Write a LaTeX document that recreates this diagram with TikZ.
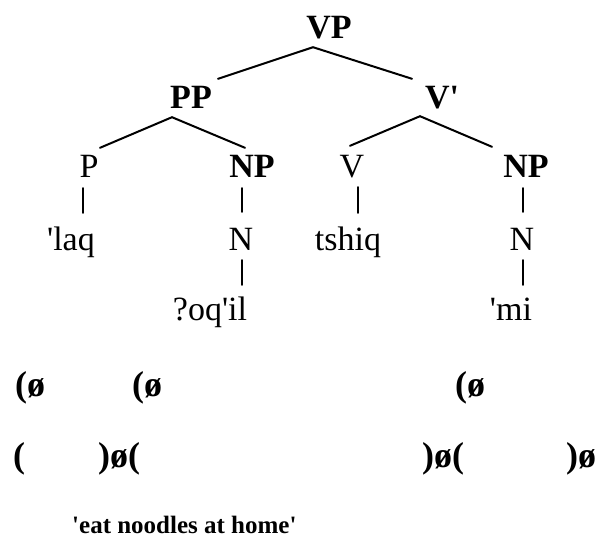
\documentclass[tikz,border=0pt]{standalone}
\usepackage{fontspec}
\setmainfont{Liberation Serif}[Ligatures=TeXOff]
\begin{document}
\begin{tikzpicture}[x=1pt,y=-1pt,
  lab/.style={inner sep=0pt, anchor=base, text height=23pt, text depth=0pt, font=\fontsize{34}{40}\selectfont},
  blab/.style={lab, font=\fontsize{34}{40}\selectfont\bfseries},
  brk/.style={inner sep=0pt, anchor=base west, font=\fontsize{36}{40}\selectfont\bfseries},
  edge/.style={line width=2pt, line cap=round}]
\useasboundingbox (0,0) rectangle (599,544);
% tree labels
\node[blab] (VP)  at (329,38)  {VP};
\node[blab] (PP)  at (191,108) {PP};
\node[blab] (Vb)  at (442,108) {V'};
\node[lab]  (P)   at (89,177)  {P};
\node[blab] (NP1) at (252,177) {NP};
\node[lab]  (V)   at (352,177) {V};
\node[blab] (NP2) at (526,177) {NP};
\node[lab]  (laq) at (71,250)  {'laq};
\node[lab]  (N1)  at (241,250) {N};
\node[lab]  (tsh) at (348,250) {tshiq};
\node[lab]  (N2)  at (522,250) {N};
\node[lab]  (oq)  at (210,320) {?oq'il};
\node[lab]  (mi)  at (511,320) {'mi};
% branches
\draw[edge] ([shift={(-16,9)}]VP.south) -- ([shift={(27,-6)}]PP.north);
\draw[edge] ([shift={(-16,9)}]VP.south) -- ([shift={(-30,-6)}]Vb.north);
\draw[edge] ([shift={(-19,9)}]PP.south) -- ([shift={(11,-6)}]P.north);
\draw[edge] ([shift={(-19,9)}]PP.south) -- ([shift={(-7,-6)}]NP1.north);
\draw[edge] ([shift={(-22,8)}]Vb.south) -- ([shift={(-2,-8)}]V.north);
\draw[edge] ([shift={(-22,8)}]Vb.south) -- ([shift={(-34,-7)}]NP2.north);
\draw[edge] ([shift={(-6,11)}]P.south) -- ([shift={(12,-14)}]laq.north);
\draw[edge] ([shift={(-10,11)}]NP1.south) -- ([shift={(1,-15)}]N1.north);
\draw[edge] ([shift={(6,10)}]V.south) -- ([shift={(10,-14)}]tsh.north);
\draw[edge] ([shift={(-3,11)}]NP2.south) -- ([shift={(1,-15)}]N2.north);
\draw[edge] ([shift={(1,10)}]N1.south) -- ([shift={(32,-12)}]oq.north);
\draw[edge] ([shift={(1,10)}]N2.south) -- ([shift={(12,-12)}]mi.north);
% brackets
\node[brk] (a1) at (15,396)  {(ø};
\node[brk] (a2) at (132,396) {(ø};
\node[brk] (a3) at (455,396) {(ø};
\node[brk] (b1) at (13,467)  {(};
\node[brk] (b2) at (98,467)  {)ø(};
\node[brk] (b3) at (422,467) {)ø(};
\node[brk] (b4) at (566,467) {)ø};
% gloss
\node[inner sep=0pt, anchor=base west, font=\fontsize{25}{30}\selectfont\bfseries] (gloss) at (72,533) {'eat noodles at home'};
\end{tikzpicture}
\end{document}
